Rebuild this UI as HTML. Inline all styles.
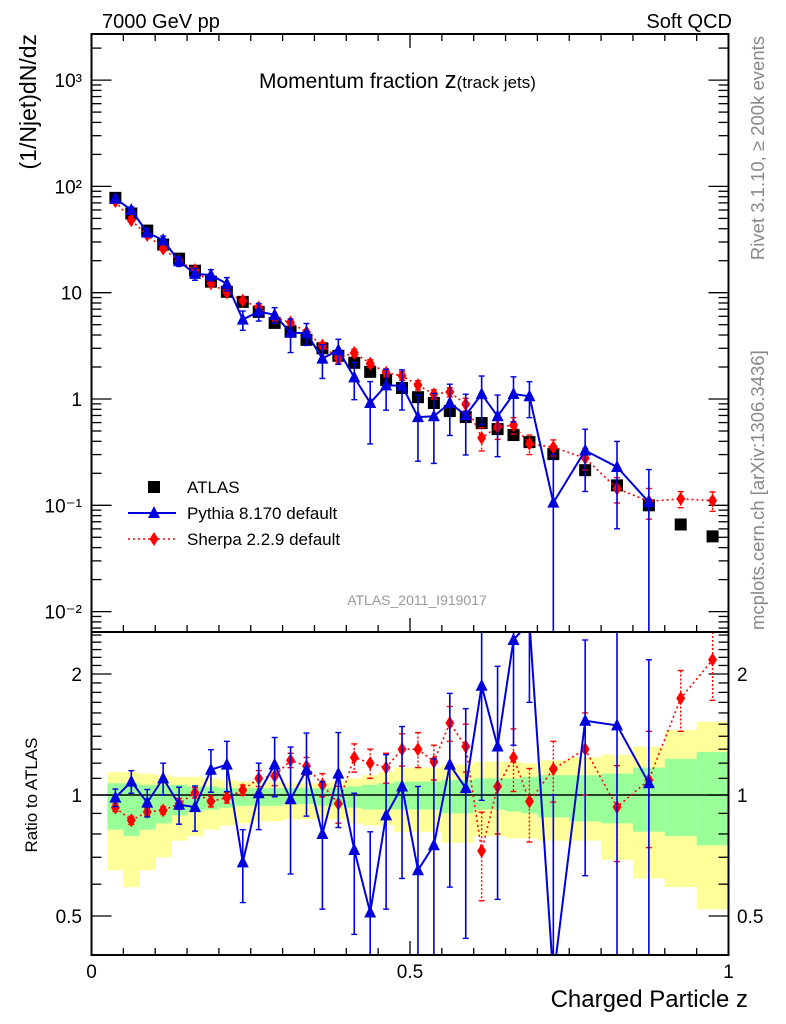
<!DOCTYPE html>
<html><head><meta charset="utf-8">
<style>
html,body{margin:0;padding:0;background:#fff;}
svg{display:block;font-family:"Liberation Sans",sans-serif;}
</style></head>
<body>
<svg id="chart" width="786" height="1024" viewBox="0 0 786 1024" xmlns="http://www.w3.org/2000/svg">
  <rect x="0" y="0" width="786" height="1024" fill="#fff"/>
  <g id="ratioBands"></g>
  <g id="ticks"></g>
  <g id="marks"></g>
  <rect x="91.5" y="34" width="637" height="598" fill="none" stroke="#000" stroke-width="2"/>
  <rect x="91.5" y="632" width="637" height="323" fill="none" stroke="#000" stroke-width="2"/>
  <text x="102" y="28" font-size="20">7000 GeV pp</text>
  <text x="732" y="28" font-size="20" text-anchor="end">Soft QCD</text>
  <text x="259" y="88" font-size="21">Momentum fraction <tspan font-size="24">z</tspan><tspan font-size="17">(track jets)</tspan></text>
  <text transform="translate(36,34) rotate(-90)" font-size="23" text-anchor="end">(1/Njet)dN/dz</text>
  <text transform="translate(37,795) rotate(-90)" font-size="17" text-anchor="middle">Ratio to ATLAS</text>
  <text x="748" y="1007" font-size="24" text-anchor="end">Charged Particle z</text>
  <text transform="translate(764,36) rotate(-90)" font-size="18.5" fill="#888" text-anchor="end">Rivet 3.1.10, ≥ 200k events</text>
  <text transform="translate(764,630) rotate(-90)" font-size="18.5" fill="#888">mcplots.cern.ch [arXiv:1306.3436]</text>
  <text x="417" y="605" font-size="14" fill="#999" text-anchor="middle">ATLAS_2011_I919017</text>
  <g id="legend"></g>
</svg>
<script>
const binEdges = [0.025,0.05,0.075,0.1,0.125,0.15,0.175,0.2,0.225,0.25,0.275,0.3,0.325,0.35,0.375,0.4,0.425,0.45,0.475,0.5,0.525,0.55,0.575,0.6,0.625,0.65,0.675,0.7,0.75,0.8,0.85,0.9,0.95,1.0];
const atlasValues = [78,55.6,38.4,28.4,20.9,16.1,12.7,10.2,8.2,6.6,5.2,4.3,3.6,3.0,2.55,2.19,1.80,1.51,1.27,1.04,0.917,0.77,0.676,0.594,0.521,0.458,0.393,0.303,0.214,0.154,0.10,0.066,0.051];
const pythiaRatio = [0.985,1.08,0.957,1.10,0.946,0.933,1.156,1.19,0.68,1.01,1.19,0.976,1.156,0.80,1.13,0.73,0.51,0.89,1.05,0.65,0.75,1.19,1.04,1.87,1.32,2.43,2.7,0.35,1.53,1.49,1.07,null,null];
const pythiaRatioErr = [0.05,0.07,0.075,0.10,0.10,0.12,0.14,0.17,0.14,0.19,0.20,0.34,0.27,0.28,0.30,0.28,0.30,0.37,0.43,0.40,0.48,0.60,0.60,0.90,0.77,1.10,1.0,0.65,0.90,1.10,1.10,null,null];
const sherpaRatio = [0.93,0.865,0.908,0.916,0.951,1.013,0.964,0.985,1.028,1.10,1.115,1.22,1.18,1.06,0.951,1.24,1.20,1.17,1.30,1.30,1.21,1.51,1.32,0.726,1.05,1.24,0.964,1.16,1.30,0.933,1.09,1.74,2.17];
const sherpaRatioErr = [0.02,0.02,0.02,0.02,0.03,0.03,0.03,0.03,0.03,0.05,0.06,0.05,0.06,0.07,0.1,0.1,0.1,0.1,0.12,0.13,0.12,0.15,0.18,0.18,0.25,0.22,0.2,0.2,0.3,0.25,0.35,0.3,0.45];
const yellowHi = [1.14,1.14,1.13,1.12,1.11,1.11,1.10,1.09,1.08,1.08,1.08,1.07,1.07,1.07,1.08,1.10,1.12,1.14,1.17,1.17,1.17,1.19,1.19,1.21,1.21,1.21,1.20,1.22,1.24,1.26,1.32,1.45,1.52];
const yellowLo = [0.65,0.59,0.65,0.70,0.77,0.79,0.82,0.84,0.85,0.86,0.86,0.87,0.87,0.87,0.87,0.85,0.84,0.84,0.81,0.81,0.81,0.76,0.76,0.79,0.79,0.78,0.78,0.77,0.77,0.69,0.62,0.59,0.52];
const greenHi = [1.07,1.07,1.06,1.06,1.06,1.05,1.05,1.04,1.04,1.04,1.04,1.04,1.04,1.04,1.04,1.05,1.06,1.07,1.08,1.08,1.08,1.09,1.09,1.10,1.10,1.10,1.11,1.12,1.12,1.13,1.17,1.23,1.28];
const greenLo = [0.82,0.79,0.82,0.85,0.89,0.91,0.92,0.93,0.94,0.94,0.94,0.95,0.95,0.94,0.94,0.93,0.92,0.92,0.92,0.92,0.92,0.90,0.90,0.92,0.92,0.91,0.90,0.88,0.86,0.85,0.81,0.79,0.75];
const mainTickLabels = ["10³","10²","10","1","10⁻¹","10⁻²"];
const ratioTickLabels = ["0.5","1","2"];
const ratioTickValues = [0.5,1,2];
const xTickLabels = ["0","0.5","1"];
const xTickValues = [0,0.5,1];

const NS="http://www.w3.org/2000/svg";
const X0=91.5,X1=728.5;
const xs=z=>X0+(X1-X0)*z;
const yMain=v=>399-106.3*Math.log10(v);
const yRatio=r=>795-402*Math.log10(r);
const MT=34,MB=632,RT=632,RB=955;
function mk(tag,attrs,parent){const e=document.createElementNS(NS,tag);for(const k in attrs)e.setAttribute(k,attrs[k]);parent.appendChild(e);return e;}
const bands=document.getElementById('ratioBands');
const ticks=document.getElementById('ticks');
const marks=document.getElementById('marks');
const legend=document.getElementById('legend');
const clipR=(y)=>Math.max(RT,Math.min(RB,y));
const clipM=(y)=>Math.max(MT,Math.min(MB,y));

for(let i=0;i<atlasValues.length;i++){
  const xa=xs(binEdges[i]),xb=xs(binEdges[i+1]);
  const ry=mk('rect',{x:xa,y:yRatio(yellowHi[i]),width:xb-xa+0.5,height:yRatio(yellowLo[i])-yRatio(yellowHi[i]),fill:'#ffff99'},bands);
  
  
  const rg=mk('rect',{x:xa,y:yRatio(greenHi[i]),width:xb-xa+0.5,height:yRatio(greenLo[i])-yRatio(greenHi[i]),fill:'#99ff99'},bands);
  
  
}
const ref=mk('line',{x1:X0,x2:X1,y1:yRatio(1),y2:yRatio(1),stroke:'#000','stroke-width':1.5},bands);



for(let k=0;k<=20;k++){
  const z=k*0.05,x=xs(z),maj=(k%10===0),L=maj?14:7;
  [[MB,-1],[MT,1],[RB,-1]].forEach(([y,d])=>{mk('line',{x1:x,x2:x,y1:y,y2:y+d*L,stroke:'#000','stroke-width':1.3},ticks);});
}
xTickValues.forEach((v,i)=>{const t=mk('text',{x:xs(v),y:978,'font-size':19,'text-anchor':'middle'},ticks);t.textContent=xTickLabels[i];
  
  });
for(let d=-3;d<=3;d++){
  for(let m=1;m<10;m++){
    const v=m*Math.pow(10,d),y=yMain(v);if(y<MT||y>MB)continue;
    const L=m===1?20:10;
    mk('line',{x1:X0,x2:X0+L,y1:y,y2:y,stroke:'#000','stroke-width':1.3},ticks);
    mk('line',{x1:X1,x2:X1-L,y1:y,y2:y,stroke:'#000','stroke-width':1.3},ticks);
  }
}
mainTickLabels.forEach((lab,i)=>{const t=mk('text',{x:82,y:yMain(Math.pow(10,3-i))+7,'font-size':19,'text-anchor':'end'},ticks);t.textContent=lab;
  
  });
for(let r=0.4;r<=2.55;r+=0.1){
  const y=yRatio(r);if(y<RT||y>RB)continue;
  const rr=Math.round(r*10)/10,maj=(rr===0.5||rr===1||rr===2),L=maj?20:10;
  mk('line',{x1:X0,x2:X0+L,y1:y,y2:y,stroke:'#000','stroke-width':1.3},ticks);
  mk('line',{x1:X1,x2:X1-L,y1:y,y2:y,stroke:'#000','stroke-width':1.3},ticks);
}
ratioTickValues.forEach((v,i)=>{
  const t=mk('text',{x:82,y:yRatio(v)+7,'font-size':19,'text-anchor':'end'},ticks);t.textContent=ratioTickLabels[i];
  
  
  const t2=mk('text',{x:737,y:yRatio(v)+7,'font-size':19},ticks);t2.textContent=ratioTickLabels[i];
  
  
});

const centers=atlasValues.map((_,i)=>(binEdges[i]+binEdges[i+1])/2);
function tri(x,y,c,p){const s=6;const e=mk('polygon',{points:`${x},${y-s-1} ${x-s},${y+s-1} ${x+s},${y+s-1}`,fill:c},p);return e;}
function dia(x,y,c,p){const e=mk('polygon',{points:`${x},${y-7} ${x-4.5},${y} ${x},${y+7} ${x+4.5},${y}`,fill:c},p);return e;}

function drawSeries(ratio,err,color,dash,shape,name){
  const gM=mk('g',{},marks);
  const gR=mk('g',{},marks);
  let pm=[],pr=[];
  for(let i=0;i<ratio.length;i++){
    if(ratio[i]==null)continue;
    const x=xs(centers[i]),v=atlasValues[i]*ratio[i];
    pm.push([x,yMain(v)]);pr.push([x,yRatio(ratio[i])]);
  }
  const lineAttr={fill:'none',stroke:color,'stroke-width':dash?1.6:2};
  if(dash)lineAttr['stroke-dasharray']='2,3';
  const l1=mk('polyline',Object.assign({points:pm.map(p=>p.join(',')).join(' ')},lineAttr),gM);
  
  mk('clipPath',{id:'rc'+name},gR);
  const cp=gR.lastChild;mk('rect',{x:X0,y:RT,width:X1-X0,height:RB-RT},cp);
  const l2=mk('polyline',Object.assign({points:pr.map(p=>p.join(',')).join(' '),'clip-path':`url(#rc${name})`},lineAttr),gR);
  
  for(let i=0;i<ratio.length;i++){
    if(ratio[i]==null)continue;
    const x=xs(centers[i]),v=atlasValues[i]*ratio[i],e=atlasValues[i]*err[i];
    const ea={stroke:color,'stroke-width':dash?1.4:1.6};if(dash)ea['stroke-dasharray']='2,2';
    const hi=clipM(yMain(v+e)),lo=(v-e>0)?clipM(yMain(v-e)):MB;
    const eb=mk('line',Object.assign({x1:x,x2:x,y1:hi,y2:lo},ea),gM);
    
    const rhi=clipR(yRatio(ratio[i]+err[i])),rlo=(ratio[i]-err[i]>0)?clipR(yRatio(ratio[i]-err[i])):RB;
    const eb2=mk('line',Object.assign({x1:x,x2:x,y1:rhi,y2:rlo},ea),gR);
    
    [hi,lo].forEach(y=>{if(y>MT&&y<MB)mk('line',{x1:x-3,x2:x+3,y1:y,y2:y,stroke:color,'stroke-width':1.4},gM);});
    [rhi,rlo].forEach(y=>{if(y>RT&&y<RB)mk('line',{x1:x-3,x2:x+3,y1:y,y2:y,stroke:color,'stroke-width':1.4},gR);});
    const ym=yMain(v);
    if(ym>MT&&ym<MB){const m=shape(x,ym,color,gM);}
    const yr=yRatio(ratio[i]);
    if(yr>RT&&yr<RB){const m2=shape(x,yr,color,gR);}
  }
}
const gA=mk('g',{},marks);


atlasValues.forEach((v,i)=>{
  const x=xs(centers[i]),y=yMain(v);
  const r=mk('rect',{x:x-6,y:y-6,width:12,height:12,fill:'#000'},gA);
  
  
});
drawSeries(sherpaRatio,sherpaRatioErr,'#ff0000',true,dia,'sherpa');
drawSeries(pythiaRatio,pythiaRatioErr,'#0000dd',false,tri,'pythia');

const le=[['ATLAS',487],['Pythia 8.170 default',513],['Sherpa 2.2.9 default',539]];
le.forEach(([lab,y],i)=>{
  const g=mk('g',{},legend);
  
  
  if(i===0)mk('rect',{x:148,y:y-6,width:12,height:12,fill:'#000'},g);
  if(i===1){mk('line',{x1:128,x2:176,y1:y,y2:y,stroke:'#0000dd','stroke-width':2},g);tri(154,y,'#0000dd',g);}
  if(i===2){mk('line',{x1:128,x2:176,y1:y,y2:y,stroke:'#ff0000','stroke-width':1.6,'stroke-dasharray':'2,3'},g);dia(154,y,'#ff0000',g);}
  const t=mk('text',{x:187,y:y+6,'font-size':17},g);t.textContent=lab;
});
</script>
</body></html>
